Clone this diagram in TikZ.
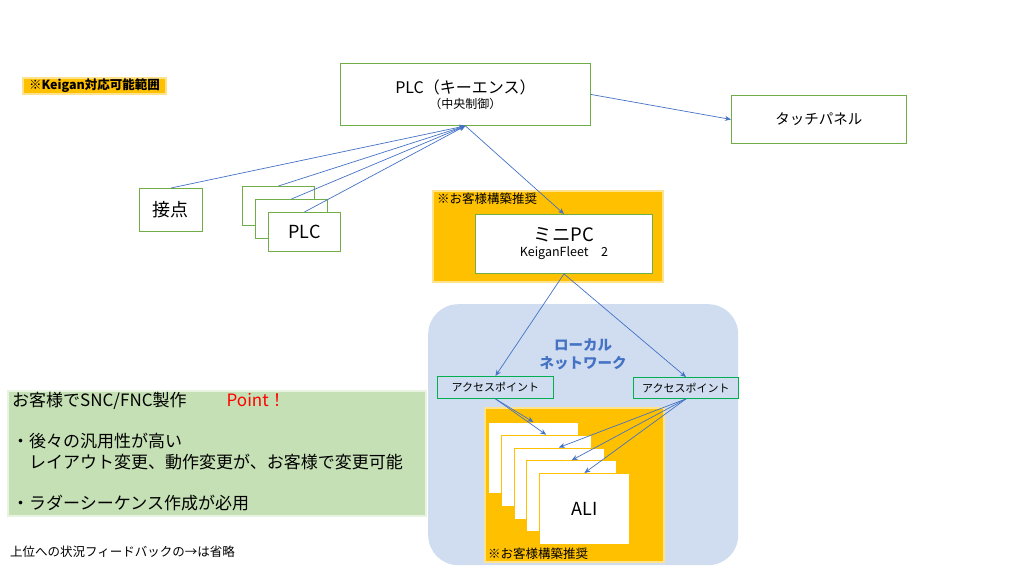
\documentclass[tikz,border=0pt]{standalone}
\usepackage{fontspec}
\setmainfont{Noto Sans CJK JP}
\usepackage{xcolor}
\usepackage{tikz}
\usetikzlibrary{arrows, arrows.meta, positioning, calc}
\definecolor{accentblue}{RGB}{68, 114, 196}
\definecolor{boxgreen}{RGB}{112, 173, 71}
\definecolor{apgreen}{RGB}{0, 176, 80}
\definecolor{recommend}{RGB}{255, 192, 0}
\definecolor{lanblue}{RGB}{208, 221, 241}
\definecolor{pointgreen}{RGB}{197, 224, 180}
\definecolor{pointred}{RGB}{255, 0, 0}

\begin{document}
\begin{tikzpicture}[
    x=1pt, y=-1pt,
    devbox/.style={rectangle, draw=boxgreen, line width=0.9pt, fill=white, anchor=north west, inner sep=0pt, text=black},
    apbox/.style={rectangle, draw=apgreen, line width=0.9pt, anchor=north west, inner sep=0pt, font=\fontsize{11}{13}\selectfont},
    alibox/.style={rectangle, draw=recommend, line width=0.8pt, fill=white, anchor=north west, inner sep=0pt, minimum width=90pt, minimum height=71pt},
    areabox/.style={rectangle, fill=recommend, draw=recommend!45, line width=2pt, anchor=north west, inner sep=0pt},
    note/.style={inner sep=0pt, font=\fontsize{12.5}{15}\selectfont},
    arrow/.style={->, >={Stealth[length=6pt, width=5pt]}, color=accentblue, line width=0.7pt}
]
\useasboundingbox (0,0) rectangle (1017,570);

\node[areabox, minimum width=143pt, minimum height=16pt, font=\bfseries\fontsize{12.5}{14}\selectfont] (keigan) at (22,77) {※Keigan対応可能範囲};

% 上位
\node[devbox, minimum width=250pt, minimum height=62pt, align=center, font=\fontsize{12}{15}\selectfont] (plc) at (340,63) {{\fontsize{16}{18}\selectfont PLC（キーエンス）}\\（中央制御）};
\node[devbox, minimum width=175pt, minimum height=48pt, font=\fontsize{14.5}{17}\selectfont] (touch) at (731,95) {タッチパネル};

\node[devbox, minimum width=63pt, minimum height=43pt, font=\fontsize{18}{21}\selectfont] (contact) at (139,188) {接点};
\node[devbox, minimum width=72pt, minimum height=39pt] (plcA) at (242,186) {};
\node[devbox, minimum width=72pt, minimum height=39pt] (plcB) at (255,199) {};
\node[devbox, minimum width=72pt, minimum height=39pt, font=\fontsize{18}{20}\selectfont] (plcC) at (268,212) {PLC};

% ミニPC
\node[areabox, minimum width=230pt, minimum height=91pt] (miniarea) at (432,190) {};
\node[note, below right=2.5pt and 5pt of miniarea.north west] (mininote) {※お客様構築推奨};
\node[devbox, minimum width=177pt, minimum height=59pt, align=center, font=\fontsize{12.5}{15}\selectfont] (mini) at (475,214) {{\fontsize{18.5}{20}\selectfont ミニPC}\\KeiganFleet　2};

% ローカルネットワーク
\node[rectangle, fill=lanblue, rounded corners=30pt, minimum width=310pt, minimum height=261pt, anchor=north west, inner sep=0pt] (lan) at (428,304) {};
\node[inner sep=0pt, align=center, text=accentblue, font=\bfseries\fontsize{14.5}{17.5}\selectfont, below=35pt of lan.north] (lanlabel) {ローカル\\ネットワーク};
\node[apbox, minimum width=116pt, minimum height=22pt] (apL) at (437,376) {アクセスポイント};
\node[apbox, minimum width=105pt, minimum height=21pt] (apR) at (633,377) {アクセスポイント};

\node[areabox, minimum width=179pt, minimum height=154pt] (aliarea) at (484,407) {};
\node[note, above right=3pt and 4pt of aliarea.south west] (alinote) {※お客様構築推奨};
\node[alibox] (aliA) at (488,422) {};
\node[alibox] (aliB) at (500.75,434.75) {};
\node[alibox] (aliC) at (513.5,447.5) {};
\node[alibox] (aliD) at (526.25,460.25) {};
\node[alibox, font=\fontsize{18}{20}\selectfont] (aliE) at (539,473) {ALI};

% Point
\node[rectangle, fill=pointgreen, draw=pointgreen!40, line width=1.5pt, minimum width=418pt, minimum height=125pt, anchor=north west, inner sep=0pt] (pointpanel) at (7,390) {};
\node[inner sep=0pt, align=left, font=\fontsize{17}{20.6}\selectfont, below right=2pt and 5pt of pointpanel.north west] (pointtext) {お客様でSNC/FNC製作\hspace{40pt}{\color{pointred}Point！}\\[20.6pt]・後々の汎用性が高い\\　レイアウト変更、動作変更が、お客様で変更可能\\[20.6pt]・ラダーシーケンス作成が必用};

\node[note, anchor=west] (feedback) at (10,552) {上位への状況フィードバックの→は省略};

\draw[arrow] (contact.north) -- (plc.south);
\draw[arrow] (plcA.north) -- (plc.south);
\draw[arrow] (plcB.north) -- (plc.south);
\draw[arrow] (plcC.north) -- (plc.south);
\draw[arrow] (plc.east) -- (touch.west);
\draw[arrow] (plc.south) -- (mini.north);
\draw[arrow] (mini.south) -- (apL.north);
\draw[arrow] (mini.south) -- (apR.north);
\draw[arrow] (apL.south) -- (aliA.north);
\draw[arrow] (apL.south) -- (aliB.north);
\draw[arrow] (apR.south) -- (aliC.north);
\draw[arrow] (apR.south) -- (aliD.north);
\draw[arrow] (apR.south) -- (aliE.north);
\end{tikzpicture}
\end{document}
